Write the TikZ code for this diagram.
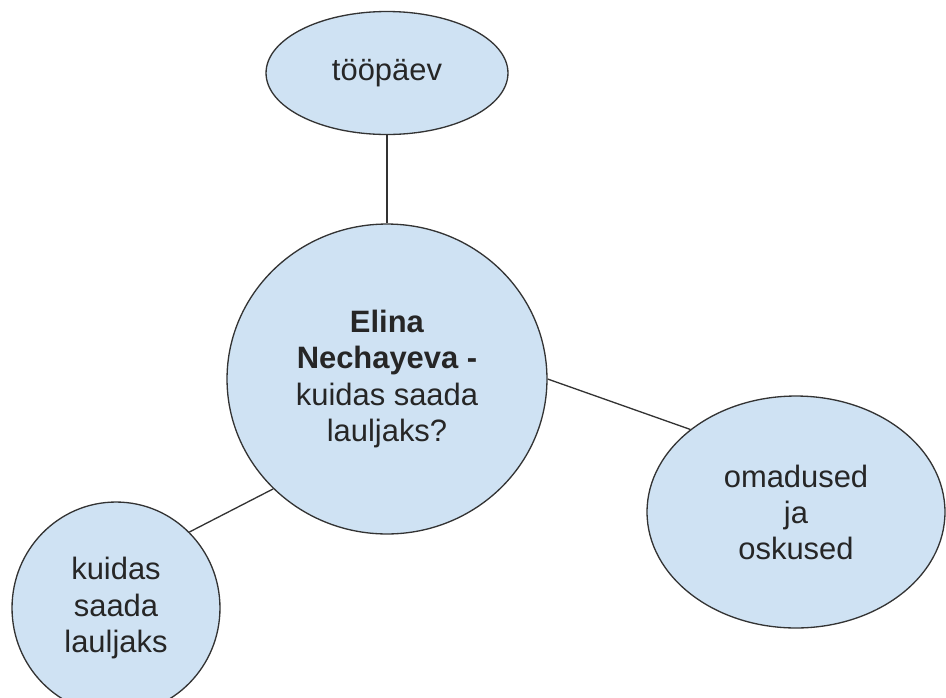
\documentclass[tikz,border=0pt]{standalone}
\usepackage{fontspec}
\setmainfont{Liberation Sans}
\usetikzlibrary{shapes.geometric}
\definecolor{bubblefill}{HTML}{CFE2F3}
\definecolor{rim}{HTML}{333333}
\begin{document}
\begin{tikzpicture}[x=0.02cm, y=-0.02cm,
  bubble/.style={ellipse, draw=rim, fill=bubblefill, line width=0.75pt,
    inner sep=0pt, align=center, text=black!85,
    font=\fontsize{17.6}{20.5}\selectfont},
  link/.style={draw=rim, line width=0.75pt}]
  \useasboundingbox (0,0) rectangle (946,697);
  \node[bubble, minimum width=4.84cm, minimum height=2.46cm] (day) at (387,73) {tööpäev};
  \node[bubble, minimum width=6.4cm, minimum height=6.2cm] (hub) at (387,379)
    {\textbf{Elina}\\\textbf{Nechayeva -}\\kuidas saada\\lauljaks?};
  \node[bubble, minimum width=5.96cm, minimum height=4.64cm] (traits) at (796,512)
    {omadused\\ja\\oskused};
  \node[bubble, minimum width=4.16cm, minimum height=4.24cm] (how) at (116,608)
    {kuidas\\saada\\lauljaks};
  \draw[link] (day.south) -- (hub.north);
  \draw[link] (hub.0) -- (traits.142);
  \draw[link] (hub.224) -- (how.46);
\end{tikzpicture}
\end{document}
